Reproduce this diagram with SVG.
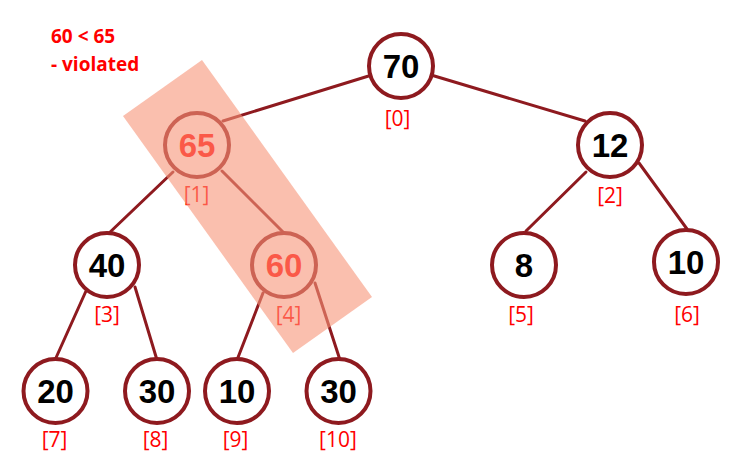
<svg xmlns="http://www.w3.org/2000/svg" width="751" height="460" viewBox="0 0 751 460">
<style>
.edge{stroke:#8E1A1F;stroke-width:3;fill:none;stroke-linecap:round}
.node circle{fill:#fff;stroke:#8E1A1F;stroke-width:4}
.val{font-family:"Liberation Sans",Arial,sans-serif;font-weight:bold;font-size:33px;fill:#000;text-anchor:middle}
.hot{fill:#FF0000}
.idx{font-family:"Open Sans","Liberation Sans",sans-serif;font-size:21px;fill:#FF0000;text-anchor:middle}
.note{font-family:"Open Sans","Liberation Sans",sans-serif;font-weight:bold;font-size:19px;fill:#FF0000}
</style>
<rect width="751" height="460" fill="#fff"/>
<g id="connectors">
<line class="edge" x1="401" y1="66" x2="223" y2="121"/>
<line class="edge" x1="401" y1="66" x2="585" y2="121"/>
<line class="edge" x1="173" y1="172" x2="107" y2="235"/>
<line class="edge" x1="222" y1="171" x2="283" y2="232"/>
<line class="edge" x1="586" y1="172" x2="526" y2="231"/>
<line class="edge" x1="639" y1="163" x2="687" y2="229"/>
<line class="edge" x1="86" y1="291" x2="55" y2="360"/>
<line class="edge" x1="135" y1="287" x2="157" y2="360"/>
<line class="edge" x1="263" y1="293" x2="237" y2="360"/>
<line class="edge" x1="315" y1="283" x2="340" y2="360"/>
</g>
<g id="n0" class="node"><circle cx="401" cy="66" r="32"/><text class="val" x="401" y="78">70</text><text class="idx" x="397.5" y="126">[0]</text></g>
<g id="n1" class="node"><circle cx="197" cy="145" r="32"/><text class="val hot" x="197" y="157">65</text><text class="idx" x="196.5" y="202">[1]</text></g>
<g id="n2" class="node"><circle cx="610" cy="145" r="32"/><text class="val" x="610" y="157">12</text><text class="idx" x="610" y="203">[2]</text></g>
<g id="n3" class="node"><circle cx="107" cy="265" r="32"/><text class="val" x="107" y="277">40</text><text class="idx" x="107" y="322">[3]</text></g>
<g id="n4" class="node"><circle cx="284" cy="265" r="32"/><text class="val hot" x="284" y="277">60</text><text class="idx" x="288.5" y="322">[4]</text></g>
<g id="n5" class="node"><circle cx="524" cy="265" r="32"/><text class="val" x="524" y="277">8</text><text class="idx" x="521" y="322">[5]</text></g>
<g id="n6" class="node"><circle cx="686" cy="262" r="32"/><text class="val" x="686" y="274">10</text><text class="idx" x="687" y="322">[6]</text></g>
<g id="n7" class="node"><circle cx="55.5" cy="391" r="32"/><text class="val" x="55.5" y="403">20</text><text class="idx" x="54.5" y="447">[7]</text></g>
<g id="n8" class="node"><circle cx="157" cy="391" r="32"/><text class="val" x="157" y="403">30</text><text class="idx" x="155.5" y="447">[8]</text></g>
<g id="n9" class="node"><circle cx="237" cy="391" r="32"/><text class="val" x="237" y="403">10</text><text class="idx" x="235.5" y="447">[9]</text></g>
<g id="n10" class="node"><circle cx="338.5" cy="391" r="32"/><text class="val" x="338.5" y="403">30</text><text class="idx" x="338" y="447">[10]</text></g>
<g id="note"><text class="note" x="51" y="43">60 &lt; 65</text><text class="note" x="51" y="71">- violated</text></g>
<polygon id="highlight" points="202,60 372,297 293,353 123,116" fill="rgb(247,148,120)" fill-opacity="0.6"/>
</svg>
